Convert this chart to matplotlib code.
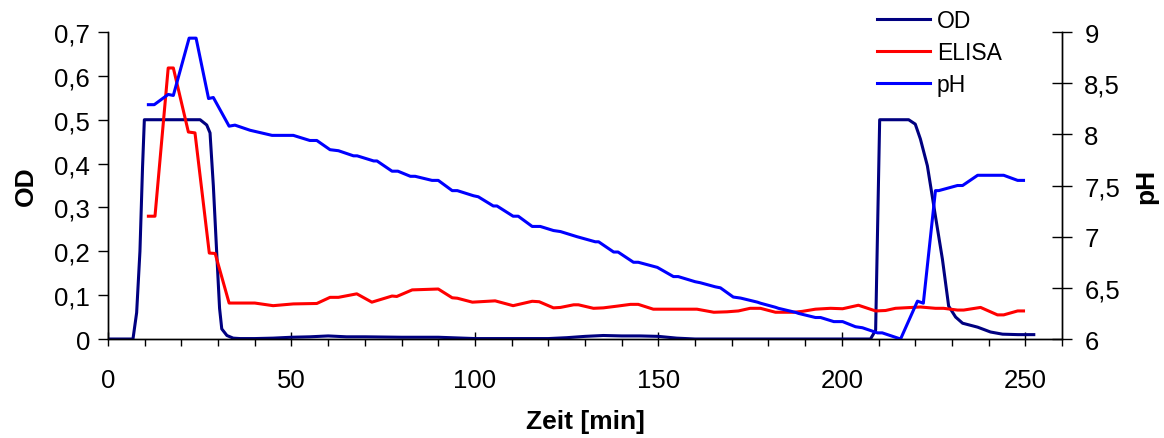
import numpy as np
import matplotlib.pyplot as plt
from matplotlib.ticker import FuncFormatter, MultipleLocator

plt.rcParams['font.family'] = ['Liberation Sans', 'DejaVu Sans']

# OD (left axis)
t_od = [0, 6.8, 7.8, 8.7, 9.4, 9.9, 10.5, 15, 20, 25.1, 26.9, 27.8, 28.7, 29.6, 30.4, 31,
        32.4, 34.1, 36, 40, 45, 50, 55, 60, 65, 70, 80, 90, 100, 110, 120, 125, 130,
        135, 140, 145, 150, 155, 160, 170, 180, 190, 200, 207.8, 209.2, 210.3, 212,
        215, 218.2, 220, 221.4, 223.3, 225.5, 227.4, 229.1, 231, 232.9, 237, 240.5,
        243.8, 248, 252.3]
od = [0, 0, 0.06, 0.2, 0.39, 0.5, 0.5, 0.5, 0.5, 0.5, 0.488, 0.47, 0.35, 0.2, 0.07, 0.023,
      0.008, 0.002, 0.001, 0.001, 0.002, 0.004, 0.005, 0.007, 0.005, 0.005, 0.004, 0.004,
      0.001, 0.001, 0.001, 0.003, 0.006, 0.008, 0.007, 0.007, 0.006, 0.002, 0.0, 0, 0,
      0, 0, 0, 0.02, 0.5, 0.5, 0.5, 0.5, 0.49, 0.456, 0.395, 0.28, 0.182, 0.075, 0.05,
      0.036, 0.027, 0.016, 0.011, 0.01, 0.01]

# ELISA (left axis)
t_el = [11, 12.8, 16.4, 17.8, 21.9, 23.7, 27.6, 29.2, 33, 36, 40, 45, 50.5, 56.9, 60.5,
        62.8, 67.8, 71.9, 77.4, 78.7, 82.9, 90, 93.8, 95.2, 99.3, 105.5, 110.4, 115.6,
        117.5, 121.4, 123.3, 126.9, 128.2, 132.3, 135, 138.8, 142.4, 144.5, 148.6,
        160.5, 165.1, 168.7, 171.8, 175, 177.8, 181.9, 186.8, 189.2, 192.8, 196.9,
        200.2, 204.5, 209.2, 211.9, 214.6, 221.4, 225.5, 227.7, 231.5, 233.2, 237.8,
        242.4, 244.1, 247.9, 249.5]
elisa = [0.28, 0.28, 0.618, 0.618, 0.472, 0.47, 0.196, 0.195, 0.082, 0.082, 0.082, 0.076,
         0.080, 0.081, 0.095, 0.095, 0.103, 0.084, 0.098, 0.097, 0.112, 0.114, 0.094,
         0.093, 0.084, 0.087, 0.076, 0.086, 0.085, 0.071, 0.072, 0.078, 0.078, 0.070,
         0.071, 0.075, 0.079, 0.079, 0.068, 0.068, 0.061, 0.062, 0.064, 0.070, 0.070,
         0.061, 0.061, 0.063, 0.068, 0.070, 0.069, 0.077, 0.064, 0.065, 0.070, 0.073,
         0.070, 0.070, 0.066, 0.066, 0.072, 0.055, 0.055, 0.064, 0.064]

# pH (right axis)
t_ph = [11, 12.6, 16.4, 17.8, 22.1, 24, 27.4, 28.7, 33, 34.6, 38.7, 44.7, 50.5, 55, 56.9,
        60.5, 62.8, 66.9, 67.9, 72.4, 73.3, 77.4, 79, 82.4, 83.7, 88.3, 90, 93.8, 95.2,
        99.6, 100.9, 105, 106, 110.4, 111.8, 115.6, 117.8, 121.4, 123.3, 126.9, 127.8,
        132.8, 133.7, 137.8, 139, 143.2, 144.5, 149.7, 154.1, 155.4, 160, 161.4, 165.5,
        166.9, 170.4, 172.4, 177, 177.8, 181.9, 182.7, 187.4, 188.2, 192.8, 194.2,
        197.8, 200.2, 203.7, 205.6, 209.7, 211, 216, 220.6, 222.2, 225.5, 226.4, 231.5,
        232.9, 237, 244.1, 247.9, 249.5]
ph = [8.29, 8.29, 8.39, 8.38, 8.94, 8.94, 8.35, 8.36, 8.08, 8.09, 8.04, 7.99, 7.99, 7.94,
      7.94, 7.85, 7.84, 7.79, 7.79, 7.74, 7.74, 7.64, 7.64, 7.59, 7.59, 7.55, 7.55, 7.45,
      7.45, 7.40, 7.39, 7.30, 7.30, 7.20, 7.20, 7.10, 7.10, 7.06, 7.05, 7.01, 7.00, 6.95,
      6.95, 6.85, 6.85, 6.75, 6.75, 6.70, 6.61, 6.61, 6.56, 6.55, 6.51, 6.50, 6.41, 6.40,
      6.36, 6.35, 6.31, 6.30, 6.26, 6.25, 6.21, 6.21, 6.17, 6.17, 6.12, 6.11, 6.06, 6.06,
      6.0, 6.37, 6.35, 7.45, 7.45, 7.50, 7.50, 7.60, 7.60, 7.55, 7.55]

comma = FuncFormatter(lambda v, p: ('%g' % round(v, 2)).replace('.', ','))

fig = plt.figure(figsize=(11.64, 4.39), dpi=100)
ax = fig.add_axes([0.0928, 0.2255, 0.8196, 0.6993])
ax2 = ax.twinx()

l1, = ax.plot(t_od, od, color='#000080', lw=2.2, label='OD')
l2, = ax.plot(t_el, elisa, color='#ff0000', lw=2.2, label='ELISA')
l3, = ax2.plot(t_ph, ph, color='#0000ff', lw=2.2, label='pH')

ax.set_xlim(0, 260)
ax.set_ylim(0, 0.7)
ax2.set_ylim(6, 9)
ax.xaxis.set_major_locator(MultipleLocator(50))
ax.xaxis.set_minor_locator(MultipleLocator(10))
ax.yaxis.set_major_locator(MultipleLocator(0.1))
ax2.yaxis.set_major_locator(MultipleLocator(0.5))
ax.yaxis.set_major_formatter(comma)
ax2.yaxis.set_major_formatter(comma)

for a in (ax, ax2):
    a.spines['top'].set_visible(False)
    for s in a.spines.values():
        s.set_linewidth(1.0)

ax.tick_params(axis='x', which='major', direction='inout', length=10, width=1, labelsize=18.5, pad=16)
ax.tick_params(axis='x', which='minor', direction='out', length=5, width=1)
ax.tick_params(axis='y', direction='out', length=7, width=1, labelsize=18.5, pad=6)
ax2.tick_params(axis='y', direction='inout', length=14, width=1, labelsize=18.5, pad=9)

ax.set_xlabel('Zeit [min]', fontsize=19, fontweight='bold', labelpad=12)
ax.set_ylabel('OD', fontsize=19, fontweight='bold', labelpad=12)
ax2.set_ylabel('pH', fontsize=19, fontweight='bold', labelpad=10)

fig.legend(handles=[l1, l2, l3], loc='upper left', bbox_to_anchor=(0.736, 1.025),
           frameon=False, fontsize=16.5, handlelength=2.3, handletextpad=0.3,
           labelspacing=0.4)

fig.savefig('out.png', dpi=100)
